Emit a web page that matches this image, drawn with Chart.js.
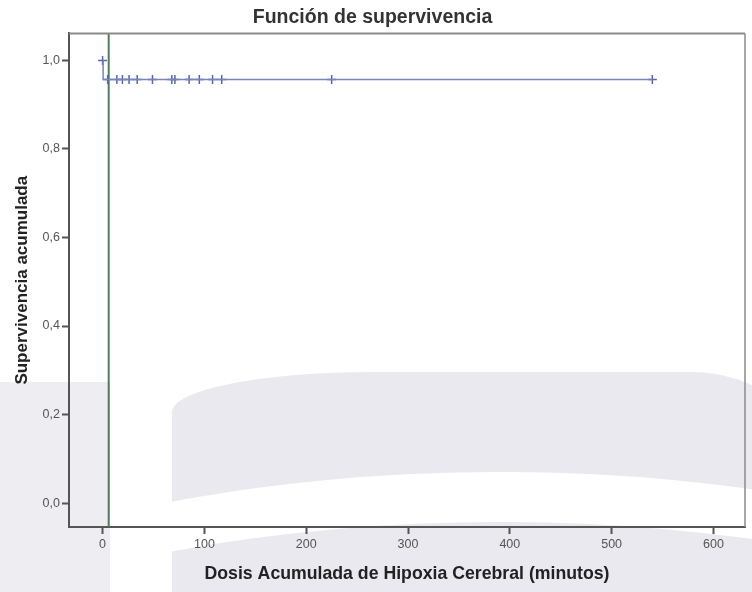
<!DOCTYPE html>
<html>
<head>
<meta charset="utf-8">
<script src="https://cdn.jsdelivr.net/npm/chart.js@4"></script>
<style>
  body { margin: 0; background: #fff; overflow: hidden; }
  .capa { position: absolute; }
  #gris { left: 172px; top: 372px; width: 640px; height: 300px; background: #e9e9ef;
          border-radius: 200px 120px 0 0 / 40px 100px 0 0; }
  #banda { left: -400px; top: 472px; width: 1800px; height: 860px; box-sizing: border-box;
           border: 50px solid #fff; border-radius: 50%; }
  #izq { left: 0; top: 382px; width: 110px; height: 212px; background: #ededf2; }
  #grafico { position: absolute; left: 0; top: 0; }
</style>
</head>
<body>
<div class="capa" id="gris"></div>
<div class="capa" id="banda"></div>
<div class="capa" id="izq"></div>
<canvas id="grafico" width="752" height="592"></canvas>
<script>
// curva de supervivencia (escalonada)
const tiemposCurva = [0, 0.5, 540];
const supervCurva = [1.0, 0.957, 0.957];
// casos censurados
const tiemposCensura = [0, 5, 14, 19.5, 26, 34, 49, 68, 71, 85, 95, 108, 117, 225, 540];
const supervCensura = [1.0, 0.957, 0.957, 0.957, 0.957, 0.957, 0.957, 0.957, 0.957, 0.957, 0.957, 0.957, 0.957, 0.957, 0.957];
// linea de referencia
const tiempoReferencia = 6;
const ticksX = [0, 100, 200, 300, 400, 500, 600];
const ticksY = [0, 0.2, 0.4, 0.6, 0.8, 1.0];
const xMin = -33, xMax = 631, yMin = -0.054, yMax = 1.061;

const marco = {
  id: 'marco',
  afterDraw(chart) {
    const a = chart.chartArea, ctx = chart.ctx;
    ctx.save();
    ctx.strokeStyle = '#8a8a8a';
    ctx.lineWidth = 2;
    ctx.beginPath();
    ctx.moveTo(a.left, a.top);
    ctx.lineTo(a.right, a.top);
    ctx.stroke();
    ctx.lineWidth = 1.5;
    ctx.beginPath();
    ctx.moveTo(a.right, a.top);
    ctx.lineTo(a.right, a.bottom);
    ctx.stroke();
    ctx.restore();
  }
};

new Chart(document.getElementById('grafico'), {
  type: 'scatter',
  data: {
    datasets: [
      {
        data: tiemposCurva.map((t, i) => ({ x: t, y: supervCurva[i] })),
        showLine: true,
        stepped: true,
        borderColor: '#7584c4',
        borderWidth: 1.5,
        pointRadius: 0
      },
      {
        data: tiemposCensura.map((t, i) => ({ x: t, y: supervCensura[i] })),
        showLine: false,
        pointStyle: 'cross',
        pointRadius: 4.5,
        borderColor: '#5566b0',
        borderWidth: 1.5
      },
      {
        data: [{ x: tiempoReferencia, y: yMin }, { x: tiempoReferencia, y: yMax }],
        showLine: true,
        borderColor: '#4e7d5e',
        borderWidth: 2,
        pointRadius: 0
      }
    ]
  },
  options: {
    responsive: false,
    animation: false,
    layout: { padding: { top: 0, right: 7, left: 0, bottom: 0 } },
    plugins: {
      legend: { display: false },
      tooltip: { enabled: false },
      title: {
        display: true,
        text: 'Función de supervivencia',
        color: '#333',
        font: { family: 'Liberation Sans', size: 19.5, weight: 'bold' },
        padding: { top: 6, bottom: 4 }
      }
    },
    scales: {
      x: {
        type: 'linear', min: xMin, max: xMax,
        afterBuildTicks: s => { s.ticks = ticksX.map(v => ({ value: v })); },
        afterFit: s => { s.height = 65; },
        grid: { drawOnChartArea: false, tickLength: 7, color: '#555', tickWidth: 2 },
        border: { color: '#555', width: 2 },
        ticks: { color: '#555', font: { family: 'Liberation Sans', size: 12.5 }, padding: 3 },
        title: {
          display: true,
          text: 'Dosis Acumulada de Hipoxia Cerebral (minutos)',
          color: '#222',
          font: { family: 'Liberation Sans', size: 17.7, weight: 'bold' },
          padding: { top: 4, bottom: 7 }
        }
      },
      y: {
        min: yMin, max: yMax,
        afterBuildTicks: s => { s.ticks = ticksY.map(v => ({ value: v })); },
        afterFit: s => { s.width = 69; },
        grid: { drawOnChartArea: false, tickLength: 7, color: '#555', tickWidth: 2 },
        border: { color: '#555', width: 2 },
        ticks: {
          color: '#555', font: { family: 'Liberation Sans', size: 12.5 }, padding: 2,
          callback: v => v.toFixed(1).replace('.', ',')
        },
        title: {
          display: true,
          text: 'Supervivencia acumulada',
          color: '#222',
          font: { family: 'Liberation Sans', size: 17, weight: 'bold' },
          padding: { top: 12, bottom: 4 }
        }
      }
    }
  },
  plugins: [marco]
});
</script>
</body>
</html>
